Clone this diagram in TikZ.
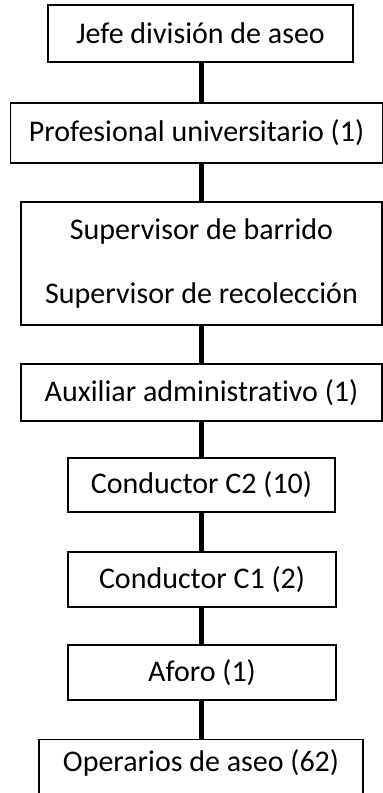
\documentclass[tikz,border=0pt]{standalone}
\usepackage{fontspec}
\setmainfont{Carlito}[Ligatures=NoCommon]
\begin{document}
\begin{tikzpicture}[x=1pt,y=-1pt,
  lbl/.style={font=\fontsize{30}{36}\selectfont, align=center, inner sep=0pt},
  box/.style={lbl, draw=black, line width=1.3pt},
  link/.style={line width=5pt}]
\useasboundingbox (0,0) rectangle (383,793);
\clip (0,0) rectangle (383,793);
\node[box, minimum width=305pt, minimum height=57pt] (b1) at (200.5,33.5) {Jefe división de aseo};
\node[box, minimum width=372pt, minimum height=60pt] (b2) at (196.5,133) {Profesional universitario (1)};
\node[box, minimum width=361pt, minimum height=123pt] (b3) at (201.5,263.5) {Supervisor de barrido\\[28pt]Supervisor de recolección};
\node[box, minimum width=361pt, minimum height=57pt] (b4) at (201.5,392.5) {Auxiliar administrativo (1)};
\node[box, minimum width=267pt, minimum height=54pt] (b5) at (201.5,485) {Conductor C2 (10)};
\node[box, minimum width=268pt, minimum height=55pt] (b6) at (202,579.5) {Conductor C1 (2)};
\node[box, minimum width=268pt, minimum height=55pt] (b7) at (202,672.5) {Aforo (1)};
\node[box, minimum width=324pt, minimum height=58pt, anchor=north] (b8) at (201,739) {};
\node[lbl] (t8) at (201,763) {Operarios de aseo (62)};
\draw[link] (b1.south -| 201,0) -- (b2.north -| 201,0);
\draw[link] (b2.south -| 201,0) -- (b3.north -| 201,0);
\draw[link] (b3.south -| 201,0) -- (b4.north -| 201,0);
\draw[link] (b4.south -| 201,0) -- (b5.north -| 201,0);
\draw[link] (b5.south -| 201,0) -- (b6.north -| 201,0);
\draw[link] (b6.south -| 201,0) -- (b7.north -| 201,0);
\draw[link] (b7.south -| 201,0) -- (b8.north -| 201,0);
\end{tikzpicture}
\end{document}
